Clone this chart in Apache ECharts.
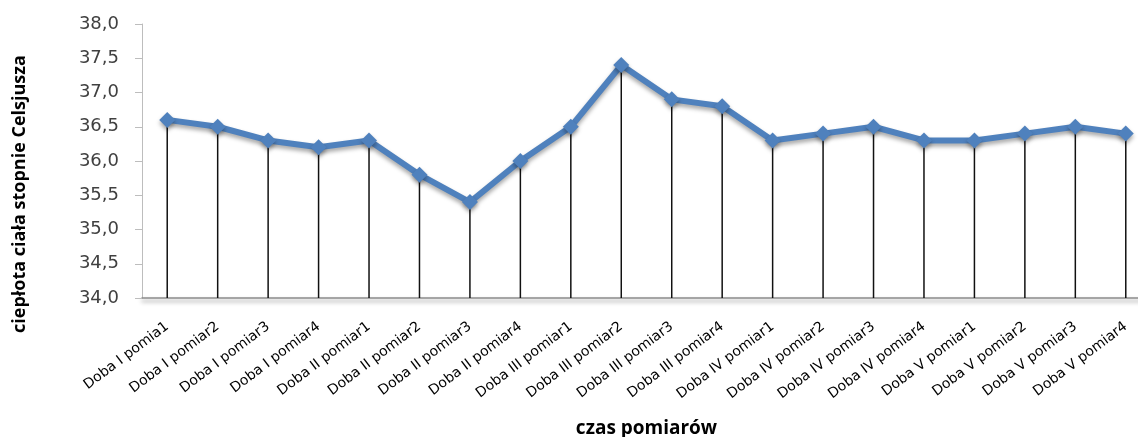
<!DOCTYPE html>
<html>
<head>
<meta charset="utf-8">
<script src="https://cdn.jsdelivr.net/npm/echarts@6/dist/echarts.min.js"></script>
<style>
  html, body { margin: 0; padding: 0; background: #fff; }
  #chart { width: 1138px; height: 437px; }
</style>
</head>
<body>
<div id="chart"></div>
<script>
// Measurement times (five days, four readings each)
const categories = [
  'Doba I pomia1', 'Doba I pomiar2', 'Doba I pomiar3', 'Doba I pomiar4',
  'Doba II pomiar1', 'Doba II pomiar2', 'Doba II pomiar3', 'Doba II pomiar4',
  'Doba III pomiar1', 'Doba III pomiar2', 'Doba III pomiar3', 'Doba III pomiar4',
  'Doba IV pomiar1', 'Doba IV pomiar2', 'Doba IV pomiar3', 'Doba IV pomiar4',
  'Doba V pomiar1', 'Doba V pomiar2', 'Doba V pomiar3', 'Doba V pomiar4'
];

// Body temperature, degrees Celsius
const temperature = [
  36.6, 36.5, 36.3, 36.2,
  36.3, 35.8, 35.4, 36.0,
  36.5, 37.4, 36.9, 36.8,
  36.3, 36.4, 36.5, 36.3,
  36.3, 36.4, 36.5, 36.4
];

// Value axis range
const yMin = 34.0;
const yMax = 38.0;
const yStep = 0.5;

const yTitle = 'ciepłota ciała stopnie Celsjusza';
const xTitle = 'czas pomiarów';

const chart = echarts.init(document.getElementById('chart'), null, { renderer: 'canvas' });

chart.setOption({
  animation: false,
  backgroundColor: '#ffffff',
  // the plot area runs a little past the right edge of the page
  grid: {
    left: 142, width: 1009, top: 24, height: 274,
    containLabel: false, outerBoundsMode: 'none'
  },
  graphic: [
    {
      type: 'text',
      x: 20,
      y: 194,
      rotation: Math.PI / 2,
      style: {
        text: yTitle,
        fontFamily: 'Open Sans',
        fontWeight: 'bold',
        fontSize: 18,
        fill: '#000',
        align: 'center',
        verticalAlign: 'middle'
      }
    }
  ],
  xAxis: {
    type: 'category',
    data: categories,
    boundaryGap: true,
    name: xTitle,
    nameLocation: 'middle',
    nameGap: 121,
    nameTextStyle: {
      fontFamily: 'Open Sans', fontWeight: 'bold', fontSize: 19, color: '#000'
    },
    axisLine: {
      lineStyle: {
        color: '#8c8c8c', width: 1.5,
        shadowColor: 'rgba(0,0,0,0.45)', shadowBlur: 4, shadowOffsetY: 3
      }
    },
    axisTick: { show: false },
    axisLabel: {
      rotate: 37,
      interval: 0,
      margin: 27,
      fontFamily: 'DejaVu Sans',
      fontSize: 14,
      color: '#000'
    },
    splitLine: { show: false }
  },
  yAxis: {
    type: 'value',
    min: yMin,
    max: yMax,
    interval: yStep,
    axisLine: { show: true, lineStyle: { color: '#bdbdbd', width: 1 } },
    axisTick: { show: true, length: 7, lineStyle: { color: '#bdbdbd' } },
    axisLabel: {
      margin: 23,
      fontFamily: 'DejaVu Sans',
      fontSize: 18,
      color: '#404040',
      formatter: v => v.toFixed(1).replace('.', ',')
    },
    splitLine: { show: false }
  },
  series: [
    {
      // drop lines from each reading down to the axis
      type: 'bar',
      data: temperature,
      barWidth: 1.5,
      barGap: '-100%',
      itemStyle: { color: '#111' },
      silent: true,
      z: 1
    },
    {
      type: 'line',
      data: temperature,
      symbol: 'diamond',
      symbolSize: 16,
      lineStyle: {
        color: '#4f81bd', width: 6,
        shadowColor: 'rgba(0,0,0,0.35)', shadowBlur: 4, shadowOffsetY: 3
      },
      itemStyle: {
        color: '#4f81bd',
        shadowColor: 'rgba(0,0,0,0.35)', shadowBlur: 4, shadowOffsetY: 3
      },
      z: 3
    }
  ]
});
</script>
</body>
</html>
